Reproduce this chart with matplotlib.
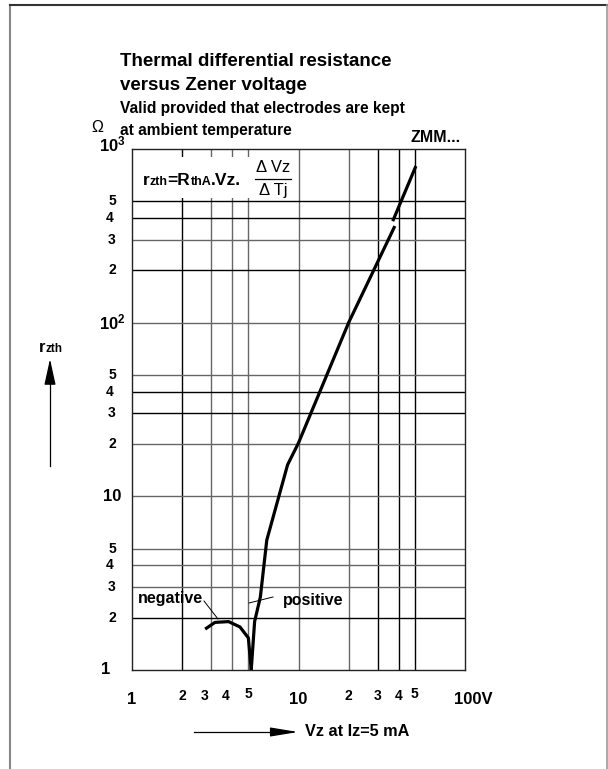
import matplotlib
matplotlib.use("Agg")
import matplotlib.pyplot as plt
from matplotlib.patches import Rectangle
from matplotlib.lines import Line2D

FONT = "Liberation Sans"
plt.rcParams["font.family"] = [FONT, "DejaVu Sans"]
plt.rcParams["mathtext.fontset"] = "custom"
plt.rcParams["mathtext.bf"] = FONT + ":bold"
plt.rcParams["mathtext.rm"] = FONT

# curve
neg_vz = [2.75, 3.15, 3.8, 4.45, 5.0, 5.2]
neg_r = [1.72, 1.88, 1.9, 1.77, 1.53, 1.0]
pos_vz = [5.2, 5.45, 5.9, 6.45, 8.6, 10, 20, 37.9]
pos_r = [1.0, 1.9, 2.63, 5.6, 15.2, 20.3, 100, 360]
top_vz = [36.8, 50.7]
top_r = [384, 797]

# grid lines (value, colour)
x_grid = [(2, "black"), (3, "#666"), (4, "#666"), (5, "#666"), (10, "#666"),
          (20, "#666"), (30, "black"), (40, "black"), (50, "black")]
y_grid = [(2, "black"), (3, "#666"), (4, "#666"), (5, "#666"), (10, "#666"),
          (20, "#666"), (30, "black"), (40, "black"), (50, "#666"),
          (100, "#666"), (200, "black"), (300, "#666"), (400, "black"), (500, "black")]

x_ticks = [1, 2, 3, 4, 5, 10, 20, 30, 40, 50, 100]
x_labels = ["1", "2", "3", "4", "5", "10", "2", "3", "4", "5", "100V"]
y_ticks = [1, 2, 3, 4, 5, 10, 20, 30, 40, 50, 100, 200, 300, 400, 500, 1000]
y_labels = ["1", "2", "3", "4", "5", "10", "2", "3", "4", "5",
            r"$\mathbf{10^2}$", "2", "3", "4", "5", r"$\mathbf{10^3}$"]
big = {"1", "10", "100V", r"$\mathbf{10^2}$", r"$\mathbf{10^3}$"}

W, H = 608, 769
fig = plt.figure(figsize=(W / 100, H / 100), dpi=100)
ax = fig.add_axes([132 / W, 1 - 670 / H, 333 / W, 521 / H])
ax.set_xscale("log")
ax.set_yscale("log")
ax.set_xlim(1, 100)
ax.set_ylim(1, 1000)
ax.set_xticks([])
ax.set_yticks([])
ax.minorticks_off()
ax.tick_params(which="both", length=0, labelbottom=False, labelleft=False)
for s in ax.spines.values():
    s.set_color("#222")
    s.set_linewidth(1.0)

for v, c in x_grid:
    ax.axvline(v, color=c, lw=1.0, zorder=1)
for v, c in y_grid:
    ax.axhline(v, color=c, lw=1.0, zorder=1)

# white patch behind the formula
ax.add_patch(Rectangle((0.002, 0.905), 0.488, 0.08, transform=ax.transAxes,
                       facecolor="white", edgecolor="none", zorder=2))

ax.plot(neg_vz, neg_r, color="black", lw=2.3, zorder=3, solid_capstyle="butt")
ax.plot(pos_vz, pos_r, color="black", lw=2.3, zorder=3, solid_capstyle="butt")
ax.plot(top_vz, top_r, color="black", lw=2.3, zorder=3, solid_capstyle="butt")

# tick labels
for v, lab in zip(x_ticks, x_labels):
    dx = -7 if lab in ("3", "4") and v < 10 else 0
    if lab == "100V":
        dx = 8
    dy = -30 if lab in big else -26
    if lab == "5":
        dy = -24
    ax.annotate(lab, xy=(v, 0), xycoords=("data", "axes fraction"),
                xytext=(dx, dy), textcoords="offset pixels",
                ha="center", va="center", weight="bold",
                size=12 if lab in big else 10)
for v, lab in zip(y_ticks, y_labels):
    dx = -20
    if lab == "1":
        dx = -26
    elif lab == "4":
        dx = -22
    dy = 0
    if lab == r"$\mathbf{10^3}$":
        dy = 5
    ax.annotate(lab, xy=(0, v), xycoords=("axes fraction", "data"),
                xytext=(dx, dy), textcoords="offset pixels",
                ha="center", va="center", weight="bold",
                size=12 if lab in big else 10)


def px(x, y):
    return x / W, 1 - y / H


renderer = fig.canvas.get_renderer()


def pieces(parts, x, y):
    # chain text runs of mixed size on one baseline
    for t, s in parts:
        txt = fig.text(x / W, 1 - y / H, t, size=s, weight="bold", va="baseline")
        x += txt.get_window_extent(renderer).width


# titles
fig.text(*px(120, 62), "Thermal differential resistance", size=13.5,
         weight="bold", va="center")
fig.text(*px(120, 85), "versus Zener voltage", size=13.5, weight="bold", va="center")
fig.text(*px(120, 108), "Valid provided that electrodes are kept", size=11.2,
         weight="bold", va="center")
fig.text(*px(120, 130), "at ambient temperature", size=11.2, weight="bold", va="center")
fig.text(*px(97, 127), "\u03a9", size=11.5, va="center", ha="center")
fig.text(*px(436, 137), "ZMM...", size=11.5, weight="bold", va="center", ha="center")

# formula
pieces([("r", 12.5), ("zth", 9), ("=R", 12.5), ("thA", 9), (".Vz.", 12.5)], 143, 185)
fig.text(*px(273, 167), "\u0394 Vz", size=12, ha="center", va="center")
fig.text(*px(273, 191), "\u0394 Tj", size=12, ha="center", va="center")
fig.add_artist(Line2D([255 / W, 291 / W], [1 - 179 / H, 1 - 179 / H],
                      color="black", lw=0.9))

# y label with arrow
pieces([("r", 12), ("zth", 8.5)], 39, 352)
fig.add_artist(Line2D([50 / W, 50 / W], [1 - 466 / H, 1 - 380 / H], color="black", lw=0.9))
ax.annotate("", xy=px(50, 359), xycoords="figure fraction",
            xytext=px(50, 383), textcoords="figure fraction",
            arrowprops=dict(arrowstyle="-|>,head_width=0.35,head_length=1.6",
                            color="black", lw=0.9, shrinkA=0, shrinkB=0))

# x label with arrow
fig.add_artist(Line2D([194 / W, 275 / W], [1 - 732 / H, 1 - 732 / H], color="black", lw=0.9))
ax.annotate("", xy=px(298, 732), xycoords="figure fraction",
            xytext=px(272, 732), textcoords="figure fraction",
            arrowprops=dict(arrowstyle="-|>,head_width=0.28,head_length=1.7",
                            color="black", lw=0.9, shrinkA=0, shrinkB=0))
fig.text(*px(305, 732), "Vz at Iz=5 mA", size=11.7, weight="bold", va="center")

# negative / positive notes
fig.text(*px(170, 599), "negative", size=11.5, weight="bold", ha="center", va="center")
fig.add_artist(Line2D([204 / W, 218 / W], [1 - 601 / H, 1 - 619 / H], color="black", lw=0.7))
fig.text(*px(313, 600), "positive", size=11.5, weight="bold", ha="center", va="center")
fig.add_artist(Line2D([249 / W, 273 / W], [1 - 603 / H, 1 - 597 / H], color="black", lw=0.7))

# page frame
fig.add_artist(Line2D([10 / W, 10 / W], [0, 1 - 5 / H], color="#888", lw=1.5))
fig.add_artist(Line2D([10 / W, 607 / W], [1 - 5 / H, 1 - 5 / H], color="#333", lw=1.5))
fig.add_artist(Line2D([606.5 / W, 606.5 / W], [0, 1 - 5 / H], color="#999", lw=1.2))

fig.savefig("out.png", dpi=100)
